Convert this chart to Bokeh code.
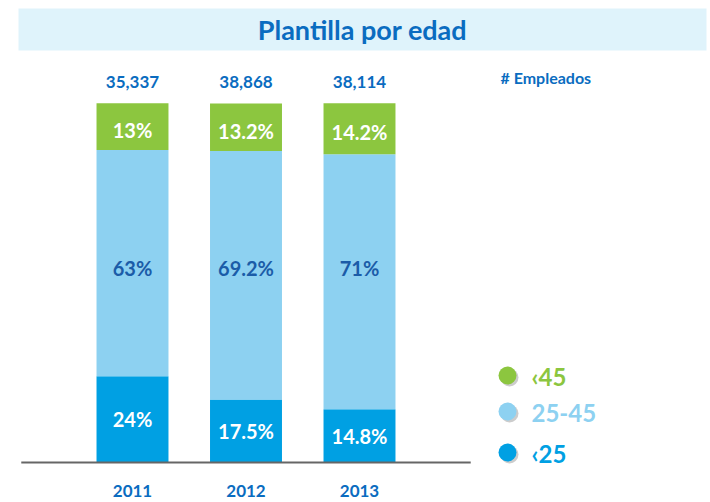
import numpy as np
from bokeh.plotting import figure
from bokeh.models import Range1d, ColumnDataSource
from bokeh.core.properties import value
from bokeh.embed import file_html
from bokeh.resources import INLINE

# ---- data ----
years = [2011, 2012, 2013]
year_labels = ["2011", "2012", "2013"]
totals = [35337, 38868, 38114]
pct_under25 = [24, 17.5, 14.8]
pct_25_45 = [63, 69.2, 71]
pct_over45 = [13, 13.2, 14.2]
legend_labels = ["\u203945", "25-45", "\u203925"]
title_text = "Plantilla por edad"
units_text = "# Empleados"

# ---- styles ----
C_OVER = "#8cc63f"
C_MID = "#8dd1f1"
C_UNDER = "#00a0e3"
C_DARK = "#0a6cc0"
C_MID_TEXT = "#1b5ca8"
C_BANNER = "#dff3fb"
FONT = value("Lato")

W, H = 710, 502
PX_PER_YEAR = 113.5
PX_PER_PCT = 3.593
X0_PAGE = 132
BASE_PAGE = 462

x_start = years[0] - X0_PAGE / PX_PER_YEAR
x_end = x_start + W / PX_PER_YEAR
y_start = -(H - BASE_PAGE) / PX_PER_PCT
y_end = y_start + H / PX_PER_PCT


def px_x(px):
    return x_start + px / PX_PER_YEAR


def px_y(py):
    return y_start + (H - py) / PX_PER_PCT


p = figure(width=W, height=H, output_backend="svg", toolbar_location=None,
           x_range=Range1d(x_start, x_end), y_range=Range1d(y_start, y_end),
           x_axis_type=None, y_axis_type=None, min_border=0)
p.outline_line_color = None
p.grid.visible = False
p.background_fill_color = "white"
p.border_fill_color = "white"

# banner
p.quad(left=[px_x(18)], right=[px_x(706)], top=[px_y(8)], bottom=[px_y(50)],
       fill_color=C_BANNER, line_color=None)
p.text(x=[px_x(362)], y=[px_y(29)], text=[title_text], text_font=FONT,
       text_font_style="bold", text_font_size="27px", text_color=C_DARK,
       text_align="center", text_baseline="middle")

# stacked bars
src = ColumnDataSource(dict(year=years, u25=pct_under25, mid=pct_25_45, o45=pct_over45))
p.vbar_stack(["u25", "mid", "o45"], x="year", width=0.634, source=src,
             fill_color=[C_UNDER, C_MID, C_OVER], line_color=None)

u = np.array(pct_under25, dtype=float)
m = np.array(pct_25_45, dtype=float)
o = np.array(pct_over45, dtype=float)

# bottom segment labels (white)
p.text(x=years, y=list(u / 2), text=[f"{v:g}%" for v in pct_under25],
       text_font=FONT, text_font_style="bold", text_font_size="20px",
       text_color="white", text_align="center", text_baseline="middle")
# middle segment labels (dark blue, aligned on one row)
p.text(x=years, y=[px_y(267)] * 3, text=[f"{v:g}%" for v in pct_25_45],
       text_font=FONT, text_font_style="bold", text_font_size="20px",
       text_color=C_MID_TEXT, text_align="center", text_baseline="middle")
# top segment labels (white)
p.text(x=years, y=list(u + m + o / 2 - 1.0), text=[f"{v:g}%" for v in pct_over45],
       text_font=FONT, text_font_style="bold", text_font_size="20px",
       text_color="white", text_align="center", text_baseline="middle")

# totals
p.text(x=years, y=list(u + m + o + 6.0), text=[f"{t:,}" for t in totals],
       text_font=FONT, text_font_style="bold", text_font_size="17px",
       text_color=C_DARK, text_align="center", text_baseline="middle")

# baseline
p.segment(x0=[years[0] - 0.98], x1=[years[-1] + 0.98], y0=[0], y1=[0],
          line_color="#666666", line_width=2)

# year labels
p.text(x=years, y=[px_y(490)] * 3, text=year_labels, text_font=FONT,
       text_font_style="bold", text_font_size="17px", text_color=C_DARK,
       text_align="center", text_baseline="middle")

# units label
p.text(x=[px_x(500)], y=[px_y(77)], text=[units_text], text_font=FONT,
       text_font_style="bold", text_font_size="16px", text_color=C_DARK,
       text_align="left", text_baseline="middle")

# legend
leg_y_page = [375, 411, 452]
leg_colors = [C_OVER, C_MID, C_UNDER]
p.scatter(x=[px_x(509)] * 3, y=[px_y(v + 2) for v in leg_y_page], size=18,
          marker="circle", fill_color="#aaaaaa", fill_alpha=0.6, line_color=None)
p.scatter(x=[px_x(507)] * 3, y=[px_y(v) for v in leg_y_page], size=18,
          marker="circle", fill_color=leg_colors, line_color=None)
for lab, yy, col in zip(legend_labels, leg_y_page, leg_colors):
    p.text(x=[px_x(531)], y=[px_y(yy + 1)], text=[lab], text_font=FONT,
           text_font_style="bold", text_font_size="24px", text_color=col,
           text_align="left", text_baseline="middle")

open("out.html", "w").write(file_html(p, INLINE))
